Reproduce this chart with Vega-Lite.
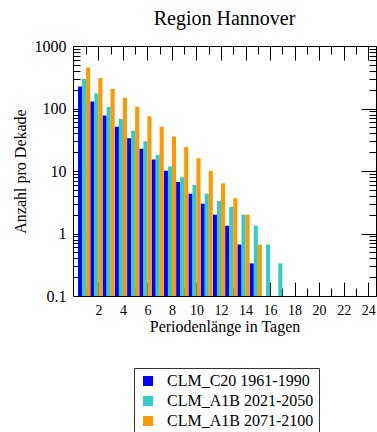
{
  "$schema": "https://vega.github.io/schema/vega-lite/v6.json",
  "width": 303,
  "height": 250,
  "autosize": {"type": "none"},
  "padding": {"left": 73, "top": 46, "right": 1, "bottom": 136},
  "title": {"text": "Region Hannover", "fontSize": 20, "font": "Liberation Serif", "fontWeight": "normal", "color": "black", "anchor": "middle", "frame": "group", "baseline": "alphabetic", "offset": -7},
  "data": {"values": [
    {"day": 1, "series": "CLM_C20 1961-1990", "value": 224},
    {"day": 2, "series": "CLM_C20 1961-1990", "value": 129},
    {"day": 3, "series": "CLM_C20 1961-1990", "value": 77},
    {"day": 4, "series": "CLM_C20 1961-1990", "value": 51},
    {"day": 5, "series": "CLM_C20 1961-1990", "value": 33.5},
    {"day": 6, "series": "CLM_C20 1961-1990", "value": 22.6},
    {"day": 7, "series": "CLM_C20 1961-1990", "value": 15.3},
    {"day": 8, "series": "CLM_C20 1961-1990", "value": 10.1},
    {"day": 9, "series": "CLM_C20 1961-1990", "value": 6.67},
    {"day": 10, "series": "CLM_C20 1961-1990", "value": 4.33},
    {"day": 11, "series": "CLM_C20 1961-1990", "value": 3.0},
    {"day": 12, "series": "CLM_C20 1961-1990", "value": 2.0},
    {"day": 13, "series": "CLM_C20 1961-1990", "value": 1.33},
    {"day": 14, "series": "CLM_C20 1961-1990", "value": 0.667},
    {"day": 15, "series": "CLM_C20 1961-1990", "value": 0.333},
    {"day": 1, "series": "CLM_A1B 2021-2050", "value": 297},
    {"day": 2, "series": "CLM_A1B 2021-2050", "value": 173},
    {"day": 3, "series": "CLM_A1B 2021-2050", "value": 106},
    {"day": 4, "series": "CLM_A1B 2021-2050", "value": 68},
    {"day": 5, "series": "CLM_A1B 2021-2050", "value": 44},
    {"day": 6, "series": "CLM_A1B 2021-2050", "value": 30},
    {"day": 7, "series": "CLM_A1B 2021-2050", "value": 18.2},
    {"day": 8, "series": "CLM_A1B 2021-2050", "value": 11.8},
    {"day": 9, "series": "CLM_A1B 2021-2050", "value": 8.0},
    {"day": 10, "series": "CLM_A1B 2021-2050", "value": 6.0},
    {"day": 11, "series": "CLM_A1B 2021-2050", "value": 4.33},
    {"day": 12, "series": "CLM_A1B 2021-2050", "value": 3.33},
    {"day": 13, "series": "CLM_A1B 2021-2050", "value": 2.67},
    {"day": 14, "series": "CLM_A1B 2021-2050", "value": 2.0},
    {"day": 15, "series": "CLM_A1B 2021-2050", "value": 1.33},
    {"day": 16, "series": "CLM_A1B 2021-2050", "value": 0.667},
    {"day": 17, "series": "CLM_A1B 2021-2050", "value": 0.333},
    {"day": 1, "series": "CLM_A1B 2071-2100", "value": 451},
    {"day": 2, "series": "CLM_A1B 2071-2100", "value": 308},
    {"day": 3, "series": "CLM_A1B 2071-2100", "value": 207},
    {"day": 4, "series": "CLM_A1B 2071-2100", "value": 148},
    {"day": 5, "series": "CLM_A1B 2071-2100", "value": 107},
    {"day": 6, "series": "CLM_A1B 2071-2100", "value": 75},
    {"day": 7, "series": "CLM_A1B 2071-2100", "value": 51},
    {"day": 8, "series": "CLM_A1B 2071-2100", "value": 35.6},
    {"day": 9, "series": "CLM_A1B 2071-2100", "value": 24.3},
    {"day": 10, "series": "CLM_A1B 2071-2100", "value": 16.0},
    {"day": 11, "series": "CLM_A1B 2071-2100", "value": 10.0},
    {"day": 12, "series": "CLM_A1B 2071-2100", "value": 6.33},
    {"day": 13, "series": "CLM_A1B 2071-2100", "value": 3.67},
    {"day": 14, "series": "CLM_A1B 2071-2100", "value": 2.0},
    {"day": 15, "series": "CLM_A1B 2071-2100", "value": 0.667}
  ]},
  "layer": [
    {
      "encoding": {
        "x": {"field": "day", "type": "quantitative",
          "scale": {"domain": [-0.07, 24.64], "nice": false, "zero": false, "padding": 0},
          "axis": {"orient": "bottom", "values": [1,2,3,4,5,6,7,8,9,10,11,12,13,14,15,16,17,18,19,20,21,22,23,24],
            "labelExpr": "datum.value % 2 == 0 ? datum.label : ''",
            "tickSize": {"condition": {"test": "datum.value % 2 == 0", "value": -14}, "value": -8},
            "labelPadding": 21, "labelFontSize": 14, "labelFlush": false, "labelOverlap": false,
            "title": "Periodenlänge in Tagen", "titleFontSize": 16, "titlePadding": -5}},
        "y": {"field": "value", "type": "quantitative", "stack": null,
          "scale": {"type": "log", "domain": [0.1, 1000], "nice": false, "padding": 0},
          "axis": {"orient": "left", "values": [0.1,0.2,0.3,0.4,0.5,0.6,0.7,0.8,0.9,1,2,3,4,5,6,7,8,9,10,20,30,40,50,60,70,80,90,100,200,300,400,500,600,700,800,900,1000],
            "labelExpr": "(datum.value == 0.1 || datum.value == 1 || datum.value == 10 || datum.value == 100 || datum.value == 1000) ? format(datum.value, '~g') : ''",
            "tickSize": {"condition": {"test": "datum.value == 0.1 || datum.value == 1 || datum.value == 10 || datum.value == 100 || datum.value == 1000", "value": -15}, "value": -7},
            "labelPadding": 22, "labelFontSize": 16, "labelFlush": false, "labelOverlap": false,
            "title": "Anzahl pro Dekade", "titleFontSize": 16, "titlePadding": 6}},
        "color": {"field": "series", "type": "nominal",
          "scale": {"domain": ["CLM_C20 1961-1990", "CLM_A1B 2021-2050", "CLM_A1B 2071-2100"], "range": ["#0000ff", "#33cccc", "#ff9900"]},
          "legend": {"title": null}}
      },
      "layer": [
        {"transform": [{"filter": "datum.series == 'CLM_C20 1961-1990'"}],
         "mark": {"type": "bar", "orient": "vertical", "width": 4.1, "xOffset": -6}},
        {"transform": [{"filter": "datum.series == 'CLM_A1B 2021-2050'"}],
         "mark": {"type": "bar", "orient": "vertical", "width": 4.1, "xOffset": -2}},
        {"transform": [{"filter": "datum.series == 'CLM_A1B 2071-2100'"}],
         "mark": {"type": "bar", "orient": "vertical", "width": 4.1, "xOffset": 2}}
      ]
    },
    {
      "mark": {"type": "point", "opacity": 0},
      "encoding": {
        "x": {"field": "day", "type": "quantitative",
          "axis": {"orient": "top", "values": [1,2,3,4,5,6,7,8,9,10,11,12,13,14,15,16,17,18,19,20,21,22,23,24],
            "labels": false, "title": null,
            "tickSize": {"condition": {"test": "datum.value % 2 == 0", "value": -14}, "value": -8}}},
        "y": {"field": "value", "type": "quantitative",
          "axis": {"orient": "right", "values": [0.1,0.2,0.3,0.4,0.5,0.6,0.7,0.8,0.9,1,2,3,4,5,6,7,8,9,10,20,30,40,50,60,70,80,90,100,200,300,400,500,600,700,800,900,1000],
            "labels": false, "title": null,
            "tickSize": {"condition": {"test": "datum.value == 0.1 || datum.value == 1 || datum.value == 10 || datum.value == 100 || datum.value == 1000", "value": -15}, "value": -7}}}
      }
    }
  ],
  "resolve": {"axis": {"x": "independent", "y": "independent"}},
  "config": {
    "font": "Liberation Serif",
    "view": {"stroke": null},
    "axis": {"domainColor": "black", "domainWidth": 1, "tickColor": "black", "tickWidth": 1, "labelColor": "black", "titleColor": "black", "grid": false, "labelFont": "Liberation Serif", "titleFont": "Liberation Serif", "titleFontWeight": "normal"},
    "legend": {"orient": "none", "legendX": 61, "legendY": 322, "direction": "vertical", "strokeColor": "#333333", "fillColor": "white", "padding": 5, "symbolType": "square", "symbolSize": 100, "symbolStrokeWidth": 0, "symbolOffset": 1, "labelOffset": 11, "labelFont": "Liberation Serif", "labelFontSize": 16, "labelColor": "black", "rowPadding": 4, "labelLimit": 300}
  }
}
